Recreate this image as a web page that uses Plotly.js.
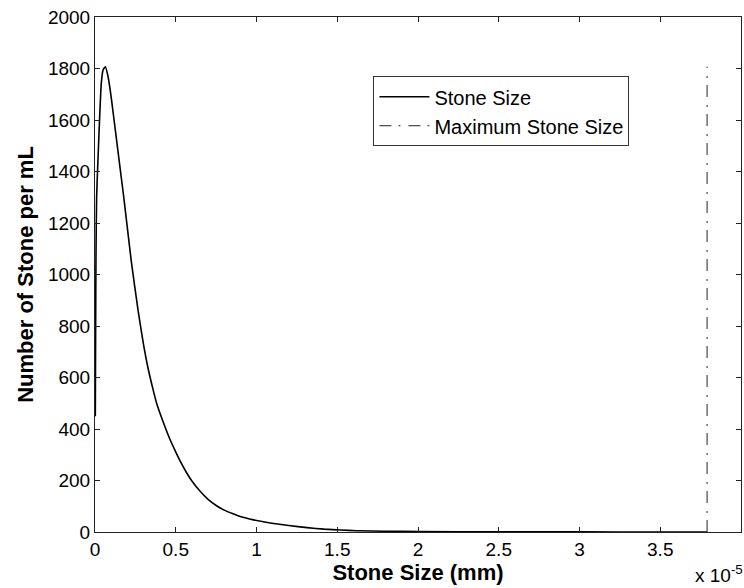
<!DOCTYPE html>
<html>
<head>
<meta charset="utf-8">
<script src="https://cdn.plot.ly/plotly-3.0.1.min.js"></script>
<style>html,body{margin:0;padding:0;background:#fff;}#chart{width:744px;height:588px;}</style>
</head>
<body>
<div id="chart"></div>
<script>
// Stone size in units of 1e-5 mm
const stoneSize = [0.002, 0.004, 0.006, 0.01, 0.018, 0.029, 0.039, 0.05, 0.064, 0.081, 0.1, 0.112, 0.13, 0.153, 0.18, 0.225, 0.267, 0.3, 0.329, 0.36, 0.383, 0.424, 0.46, 0.496, 0.53, 0.568, 0.6, 0.651, 0.7, 0.755, 0.8, 0.858, 0.9, 0.982, 1.05, 1.106, 1.2, 1.313, 1.42, 1.52, 1.62, 1.8, 2.0, 2.5, 3.0, 3.5, 3.79];
const stoneCount = [450, 800, 1070, 1300, 1440, 1613, 1743, 1794, 1807, 1768, 1690, 1630, 1540, 1425, 1290, 1050, 860, 730, 635, 552, 497, 424, 366, 316, 272, 229, 198, 158, 127, 101, 85, 70, 60, 47, 39, 33, 25, 17, 11, 7.5, 5, 3, 1.8, 0.6, 0.3, 0.15, 0.1];
const maxStoneSize = [3.79, 3.79];
const maxStoneRange = [0, 1807];
const seriesNames = ["Stone Size", "Maximum Stone Size"];

const FONT = 'Liberation Sans, Arial, sans-serif';

const traces = [
  {x: stoneSize, y: stoneCount, type: 'scatter', mode: 'lines', name: seriesNames[0],
   line: {color: '#000', width: 1.6, shape: 'spline', smoothing: 0.5}},
  {x: maxStoneSize, y: maxStoneRange, type: 'scatter', mode: 'lines', name: seriesNames[1],
   line: {color: '#222', width: 1, dash: '12px,7px,2px,8px'}}
];

const axisCommon = {
  showline: true, linecolor: '#222', linewidth: 1, mirror: 'ticks',
  ticks: 'inside', ticklen: 5, tickwidth: 1, tickcolor: '#222',
  showgrid: false, zeroline: false,
  tickfont: {family: FONT, size: 19, color: '#000'}
};

const layout = {
  width: 744, height: 588,
  margin: {l: 95, r: 3, t: 17, b: 56},
  paper_bgcolor: '#fff', plot_bgcolor: '#fff',
  showlegend: true,
  legend: {x: 0.431, y: 0.885, xanchor: 'left', yanchor: 'top',
    bgcolor: '#fff', bordercolor: '#333', borderwidth: 1, tracegroupgap: 0,
    itemwidth: 50,
    font: {family: FONT, size: 20, color: '#000'}},
  xaxis: Object.assign({}, axisCommon, {range: [0, 4], dtick: 0.5, tick0: 0,
    title: {text: '<b>Stone Size (mm)</b>', standoff: 0,
      font: {family: FONT, size: 22, color: '#000'}}}),
  yaxis: Object.assign({}, axisCommon, {range: [0, 2000], dtick: 200, tick0: 0,
    title: {text: '<b>Number of Stone per mL</b>', standoff: 8,
      font: {family: FONT, size: 22, color: '#000'}}}),
  annotations: [{xref: 'paper', yref: 'paper', x: 0.926, y: -0.082, xanchor: 'left', yanchor: 'middle',
    showarrow: false, text: 'x 10<sup>-5</sup>',
    font: {family: FONT, size: 19, color: '#000'}}]
};

Plotly.newPlot('chart', traces, layout, {displayModeBar: false, staticPlot: true});
</script>
</body>
</html>
